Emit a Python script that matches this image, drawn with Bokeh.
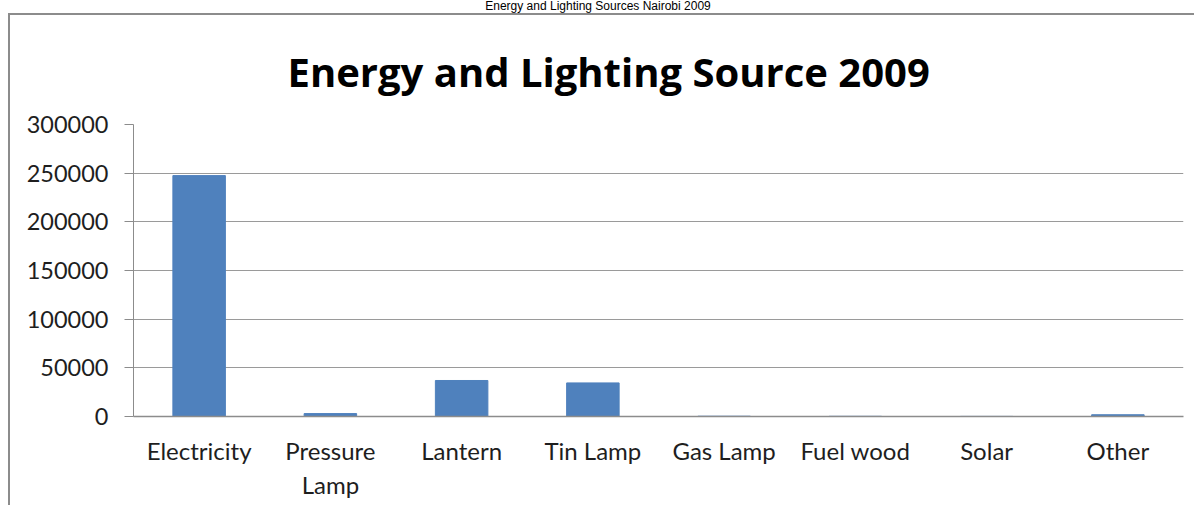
from bokeh.plotting import figure
from bokeh.models import Div, Range1d, FixedTicker
from bokeh.layouts import column
from bokeh.embed import file_html
from bokeh.resources import INLINE

caption_text = "Energy and Lighting Sources Nairobi 2009"
chart_title = "Energy and Lighting Source 2009"
categories = ["Electricity", "Pressure\nLamp", "Lantern", "Tin Lamp",
              "Gas Lamp", "Fuel wood", "Solar", "Other"]
households = [247500, 3000, 37000, 34500, 300, 200, 100, 1800]
y_ticks = [0, 50000, 100000, 150000, 200000, 250000, 300000]

caption = Div(text=caption_text, width=1196, height=13, margin=0,
              styles={"font-family": "Liberation Sans", "font-size": "12px",
                      "line-height": "13px", "text-align": "center",
                      "color": "#000000", "white-space": "nowrap"})

p = figure(x_range=categories, y_range=Range1d(0, 300000),
           width=1186, height=492, output_backend="svg", toolbar_location=None,
           min_border_left=123, min_border_right=13, min_border_top=109,
           min_border_bottom=91, outline_line_color=None,
           background_fill_color="white", border_fill_color="white")
p.margin = (0, 0, 0, 8)
p.styles = {"border-left": "2px solid #8c8c8c", "border-top": "2px solid #8c8c8c"}

p.title.text = chart_title
p.title.text_font = "Open Sans"
p.title.text_font_style = "bold"
p.title.text_font_size = "40px"
p.title.text_color = "#000000"
p.title.align = "left"
p.title.offset = 154
p.title.standoff = 52

p.vbar(x=categories, top=households, width=0.4, color="#4F81BD")

p.yaxis.ticker = FixedTicker(ticks=y_ticks)
p.yaxis.formatter.use_scientific = False
p.yaxis.major_label_text_font = "Lato"
p.yaxis.major_label_text_font_size = "23.5px"
p.yaxis.major_label_text_color = "#1e1e1e"
p.yaxis.major_label_standoff = 16
p.yaxis.axis_line_color = "#8c8c8c"
p.yaxis.major_tick_line_color = "#8c8c8c"
p.yaxis.major_tick_out = 9
p.yaxis.major_tick_in = 0
p.yaxis.minor_tick_line_color = None

p.xaxis.major_label_text_font = "Lato"
p.xaxis.major_label_text_font_size = "24px"
p.xaxis.major_label_text_color = "#1e1e1e"
p.xaxis.major_label_standoff = 13
p.xaxis.axis_line_color = "#8c8c8c"
p.xaxis.axis_line_width = 1.5
p.xaxis.major_tick_line_color = None
p.xaxis.minor_tick_line_color = None

p.xgrid.grid_line_color = None
p.ygrid.grid_line_color = "#9a9a9a"
p.ygrid.grid_line_width = 1

layout = column(caption, p, spacing=0)
open("out.html", "w").write(file_html(layout, INLINE))
